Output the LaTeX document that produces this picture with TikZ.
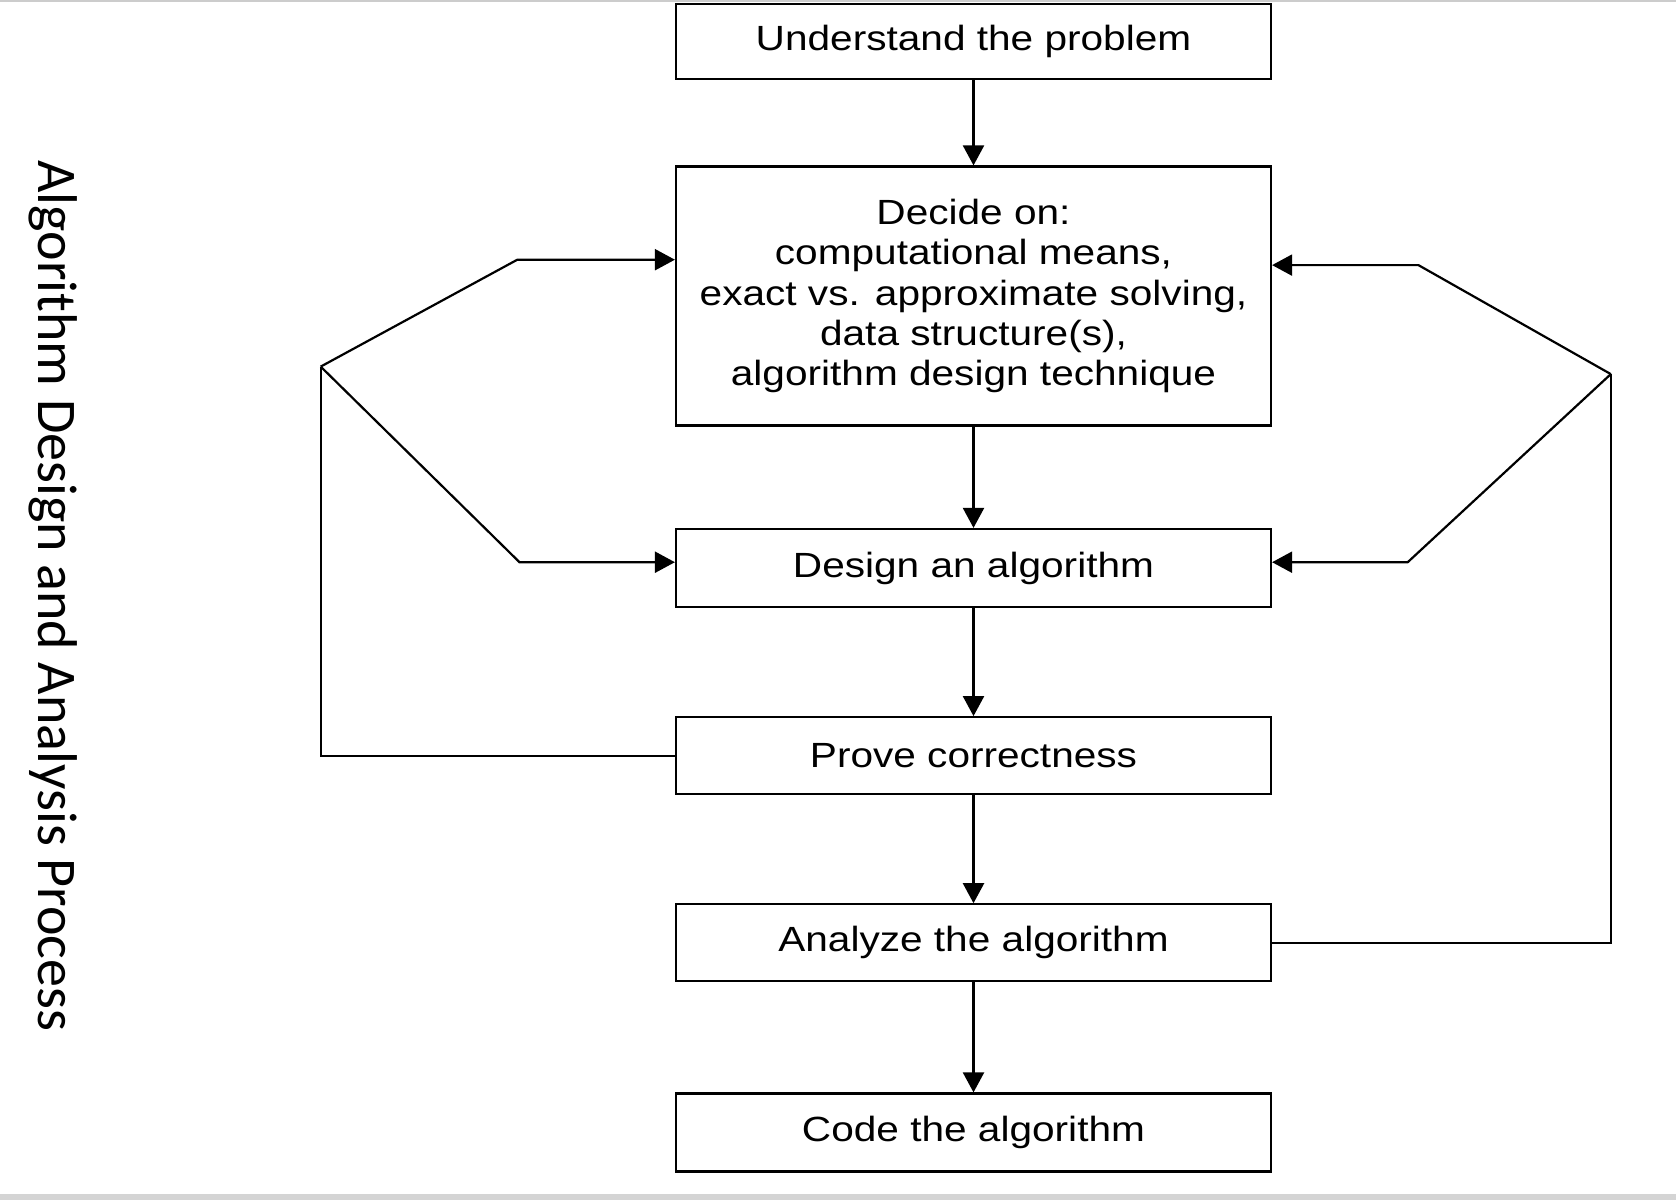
\documentclass[tikz,border=0pt]{standalone}
\usepackage{fontspec}
\newfontfamily\boxfont[FakeStretch=1.16]{Liberation Sans}
\newfontfamily\sidefont{Carlito}
\usetikzlibrary{arrows.meta}
\begin{document}
\begin{tikzpicture}[x=1pt,y=-1pt,
  flowbox/.style={draw=black, line width=2.2pt, minimum width=595pt, inner sep=0pt,
    align=center, font=\boxfont\fontsize{35}{40.2}\selectfont},
  conn/.style={line width=2.2pt, -{Triangle[length=20pt,width=21pt]}},
  loopline/.style={line width=2.2pt}]
\useasboundingbox (0,0) rectangle (1676,1200);
\fill[white] (0,0) rectangle (1676,1200);
\fill[black!20] (0,0) rectangle (1676,2);
\fill[black!17] (0,1194) rectangle (1676,1200);

\node[flowbox, minimum height=75pt]  (b1) at (973.5,41.7)  {Understand the problem};
\node[flowbox, minimum height=259pt] (b2) at (973.5,296)   {Decide on:\\computational means,\\exact vs. approximate solving,\\data structure(s),\\algorithm design technique};
\node[flowbox, minimum height=78pt]  (b3) at (973.5,568)   {Design an algorithm};
\node[flowbox, minimum height=77pt]  (b4) at (973.5,755.7) {Prove correctness};
\node[flowbox, minimum height=77pt]  (b5) at (973.5,942.8) {Analyze the algorithm};
\node[flowbox, minimum height=78pt]  (b6) at (973.5,1132.5){Code the algorithm};

\node[anchor=base, rotate=-90, inner sep=0pt, font=\sidefont\fontsize{56}{60}\selectfont] (side) at (38.5,595.8) {Algorithm Design and Analysis Process};

\draw[conn] (b1) -- (b2);
\draw[conn] (b2) -- (b3);
\draw[conn] (b3) -- (b4);
\draw[conn] (b4) -- (b5);
\draw[conn] (b5) -- (b6);

% left feedback
\coordinate (L)  at (320.7,366.6);
\coordinate (lu) at (517.3,259.7);
\coordinate (ld) at (519.5,562.2);
\draw[loopline] (b4.west) -| (L);
\draw[conn] (L) -- (lu) -- (lu -| b2.west);
\draw[conn] (L) -- (ld) -- (ld -| b3.west);

% right feedback
\coordinate (R)  at (1610.8,374.1);
\coordinate (ru) at (1418.4,265.1);
\coordinate (rd) at (1407.7,562.2);
\draw[loopline] (b5.east) -| (R);
\draw[conn] (R) -- (ru) -- (ru -| b2.east);
\draw[conn] (R) -- (rd) -- (rd -| b3.east);
\end{tikzpicture}
\end{document}
